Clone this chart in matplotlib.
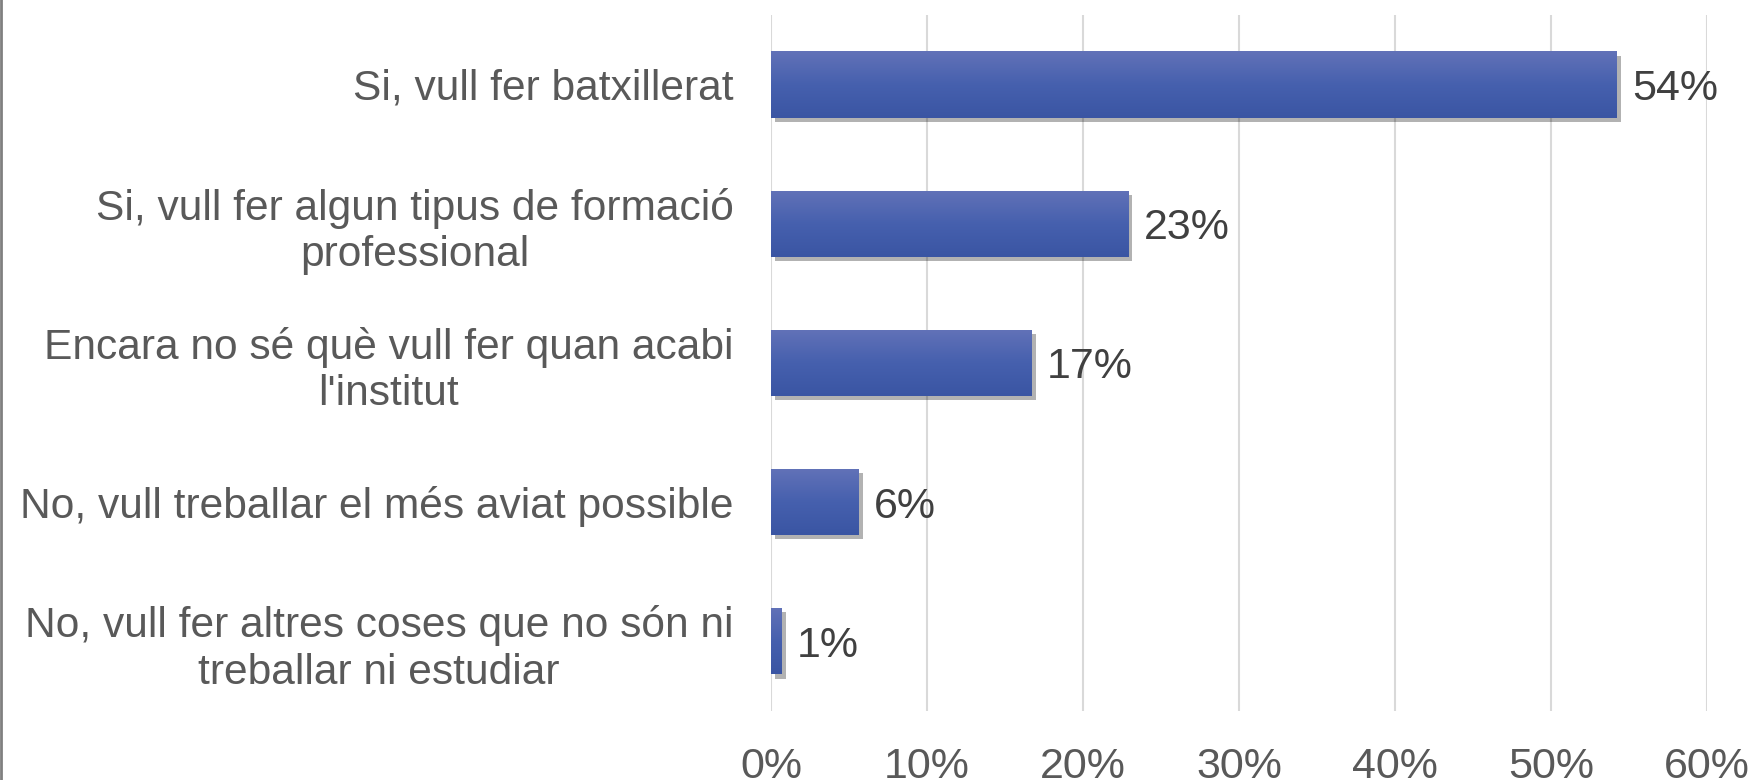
import numpy as np
import matplotlib
matplotlib.use('Agg')
import matplotlib.pyplot as plt
import matplotlib.patheffects as pe
from matplotlib.lines import Line2D
from matplotlib.colors import LinearSegmentedColormap
from matplotlib.ticker import FuncFormatter

plt.rcParams['font.family'] = ['Liberation Sans', 'DejaVu Sans']

categories = [
    'Si, vull fer batxillerat',
    'Si, vull fer algun tipus de formació\nprofessional',
    'Encara no sé què vull fer quan acabi\nl\'institut',
    'No, vull treballar el més aviat possible',
    'No, vull fer altres coses que no són ni\ntreballar ni estudiar',
]
values = [54.2, 22.9, 16.7, 5.6, 0.7]
value_labels = ['54%', '23%', '17%', '6%', '1%']
x_ticks = [0, 10, 20, 30, 40, 50, 60]

fig = plt.figure(figsize=(17.55, 7.8), dpi=100)
ax = fig.add_axes([0.4393, 0.0885, 0.9727 - 0.4393, 0.981 - 0.0885])

y = np.arange(len(categories))
bars = ax.barh(y, values, height=0.475, color='#4A62AD', zorder=3,
               path_effects=[pe.SimplePatchShadow(offset=(3, -3), shadow_rgbFace='#000000', alpha=0.3),
                             pe.Normal()])

# vertical gradient on each bar
grad_cmap = LinearSegmentedColormap.from_list('g', ['#3A55A3', '#4660AE', '#6272B8'])
grad = np.linspace(0, 1, 256).reshape(-1, 1)
for b in bars:
    x0, y0 = b.get_x(), b.get_y()
    w, h = b.get_width(), b.get_height()
    im = ax.imshow(grad, cmap=grad_cmap, aspect='auto', origin='lower',
                   extent=(x0, x0 + w, y0 + h, y0), zorder=4)
    im.set_clip_path(b)

for b, lab in zip(bars, value_labels):
    ax.annotate(lab, (b.get_width(), b.get_y() + b.get_height() / 2),
                xytext=(11, 0), textcoords='offset points', va='center_baseline', ha='left',
                fontsize=31, color='#404040', zorder=5)

ax.set_xlim(0, 60)
ax.set_ylim(len(categories) - 0.5, -0.5)
ax.set_xticks(x_ticks)
ax.xaxis.set_major_formatter(FuncFormatter(lambda v, p: f'{v:.0f}%'))
ax.set_yticks(y)
ax.set_yticklabels(categories, multialignment='center')
ax.tick_params(axis='y', length=0, pad=27, labelsize=30.6, labelcolor='#595959')
ax.tick_params(axis='x', length=0, pad=26, labelsize=31, labelcolor='#595959')
ax.grid(axis='x', color='#D9D9D9', linewidth=1.5, zorder=0)
ax.set_axisbelow(True)
for s in ax.spines.values():
    s.set_visible(False)

# thin gray border at the left edge
fig.add_artist(Line2D([0.0008, 0.0008], [0, 1], transform=fig.transFigure, color='#808080', lw=2))

fig.savefig('out.png', dpi=100)
